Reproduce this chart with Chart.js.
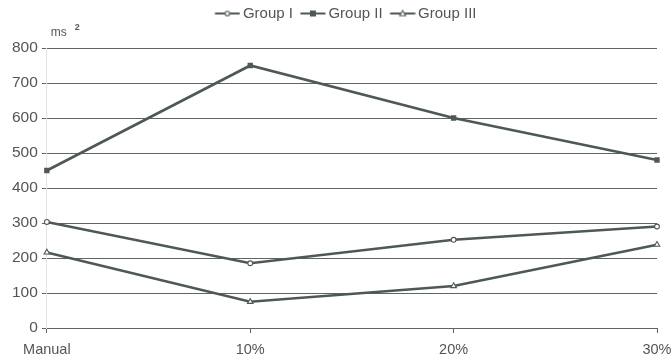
<!DOCTYPE html>
<html>
<head>
<meta charset="utf-8">
<script src="https://cdn.jsdelivr.net/npm/chart.js@4/dist/chart.umd.min.js"></script>
<style>
  html, body { margin: 0; padding: 0; background: #ffffff; }
  #wrap { width: 672px; height: 360px; }
</style>
</head>
<body>
<div id="wrap"><canvas id="c" width="672" height="360"></canvas></div>
<script>
// Categories and series values
const categories = ['Manual', '10%', '20%', '30%'];
const groupI   = [303, 185, 252, 290];
const groupII  = [450, 750, 600, 480];
const groupIII = [216, 75, 120, 238];
const seriesNames = ['Group I', 'Group II', 'Group III'];
const yMin = 0, yMax = 800, yStep = 100;

const FONT = '"Liberation Sans", Arial, sans-serif';
const lineColor = '#4f5954';
const textColor = '#525654';
const gridColor = '#616462';

// Legend sample: a short line with the series marker in its middle
function legendSample(kind) {
  const cv = document.createElement('canvas');
  cv.width = 32; cv.height = 10;
  const g = cv.getContext('2d');
  g.strokeStyle = lineColor; g.lineWidth = 2;
  g.beginPath(); g.moveTo(6.5, 5); g.lineTo(31.5, 5); g.stroke();
  g.lineWidth = 1.1;
  const cx = 19;
  if (kind === 'square') {
    g.fillStyle = lineColor; g.fillRect(cx - 3, 2, 6, 6);
  } else if (kind === 'circle') {
    g.fillStyle = '#fff'; g.beginPath(); g.arc(cx, 5, 2.3, 0, Math.PI * 2); g.fill(); g.stroke();
  } else {
    g.fillStyle = '#fff'; g.beginPath(); g.moveTo(cx, 2); g.lineTo(cx + 3, 7.3); g.lineTo(cx - 3, 7.3); g.closePath(); g.fill(); g.stroke();
  }
  return cv;
}
const samples = [legendSample('circle'), legendSample('square'), legendSample('triangle')];

// Legend spacing: extra room below the legend row and a slight shift left
const legendTweak = {
  id: 'legendTweak',
  afterInit(chart) {
    const lg = chart.legend;
    if (lg && !lg._gapAdded) {
      const fit = lg.fit.bind(lg);
      lg.fit = function () { fit(); this.height += 17; };
      lg._gapAdded = true;
    }
  },
  afterLayout(chart) {
    if (chart.legend) chart.legend.left -= 14;
  }
};

// Unit label above the value axis
const unitLabel = {
  id: 'unitLabel',
  afterDraw(chart) {
    const { ctx, chartArea } = chart;
    ctx.save();
    ctx.fillStyle = textColor;
    ctx.textBaseline = 'alphabetic';
    ctx.font = '12px ' + FONT;
    ctx.fillText('ms', chartArea.left + 4, chartArea.top - 12);
    ctx.font = 'bold 9px ' + FONT;
    ctx.fillText('2', chartArea.left + 28, chartArea.top - 18);
    ctx.restore();
  }
};

const common = {
  borderColor: lineColor,
  borderWidth: 2.6,
  tension: 0,
  fill: false,
  pointBorderColor: lineColor,
  pointBorderWidth: 1.1
};

new Chart(document.getElementById('c'), {
  type: 'line',
  data: {
    labels: categories,
    datasets: [
      { ...common, label: seriesNames[0], data: groupI, pointStyle: 'circle', pointRadius: 2.4, pointBackgroundColor: '#fff' },
      { ...common, label: seriesNames[1], data: groupII, pointStyle: 'rect', pointRadius: 3.0, pointBackgroundColor: lineColor },
      { ...common, label: seriesNames[2], data: groupIII, pointStyle: 'triangle', pointRadius: 3.2, pointBackgroundColor: '#fff' }
    ]
  },
  options: {
    responsive: false,
    animation: false,
    layout: { padding: { top: 0, left: 8, right: 15, bottom: 2 } },
    plugins: {
      tooltip: { enabled: false },
      legend: {
        position: 'top',
        fullSize: false,
        labels: {
          usePointStyle: true,
          pointStyleWidth: 22,
          padding: 6,
          color: textColor,
          font: { size: 15, family: FONT },
          generateLabels(chart) {
            return chart.data.datasets.map((ds, i) => ({
              text: ds.label,
              pointStyle: samples[i],
              fillStyle: lineColor,
              strokeStyle: lineColor,
              fontColor: textColor,
              lineWidth: 0,
              hidden: false,
              datasetIndex: i
            }));
          }
        }
      }
    },
    scales: {
      x: {
        offset: false,
        grid: { display: true, drawOnChartArea: false, drawTicks: true, tickLength: 5, color: gridColor, tickColor: gridColor },
        border: { display: false },
        ticks: { color: textColor, padding: 8, maxRotation: 0, autoSkip: false,
                 font: { size: 14.5, family: FONT } },
        afterFit(scale) { scale.paddingRight = 0; scale.height = 30; }
      },
      y: {
        min: yMin, max: yMax,
        grid: { color: gridColor, lineWidth: 1, tickLength: 5, tickColor: gridColor },
        border: { display: true, color: '#e4e4e4', width: 1 },
        ticks: { stepSize: yStep, color: textColor, padding: 4,
                 font: { size: 15.5, family: FONT } }
      }
    }
  },
  plugins: [legendTweak, unitLabel]
});
</script>
</body>
</html>
